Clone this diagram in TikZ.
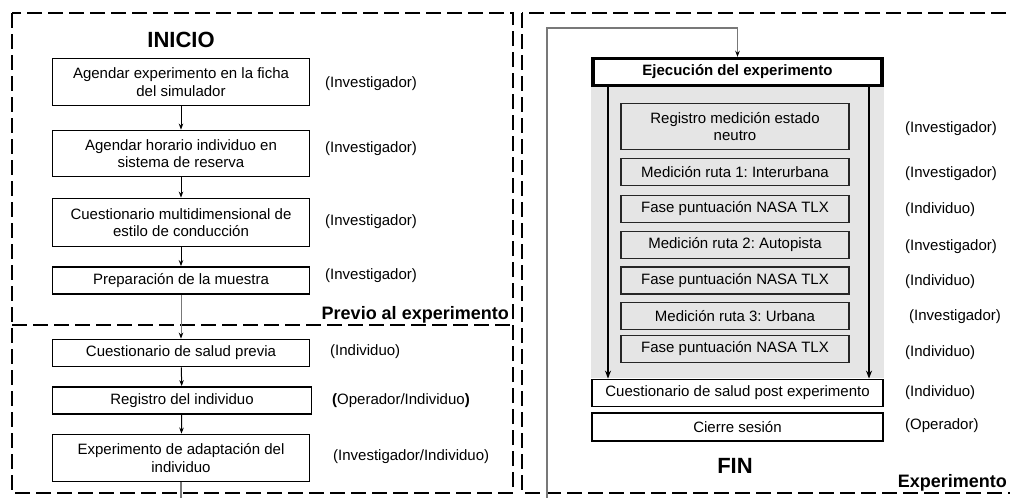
\documentclass[tikz,border=0pt]{standalone}
\usepackage{fontspec}
\setmainfont{Liberation Sans}
\usetikzlibrary{arrows.meta, positioning}
\frenchspacing

\newcommand{\stepfont}{\fontsize{15}{17.5}\selectfont}
\definecolor{panel}{RGB}{229,229,229}
\definecolor{loopgray}{RGB}{120,120,120}

\tikzset{
    stepbox/.style={draw, line width=1.8pt, fill=white, minimum width=257pt, minimum height=27pt, align=center, inner sep=0pt, font=\stepfont},
    measbox/.style={draw=black!85, line width=1.4pt, fill=panel, minimum width=228pt, minimum height=27pt, align=center, inner sep=0pt, font=\stepfont},
    runbox/.style={draw, line width=3.4pt, fill=white, minimum width=289pt, minimum height=27pt, inner sep=0pt, font=\bfseries\stepfont},
    endbox/.style={draw, line width=1.8pt, fill=white, minimum width=291pt, minimum height=27pt, inner sep=0pt, font=\stepfont},
    role/.style={anchor=west, inner sep=0pt, font=\stepfont},
    phase/.style={line width=2pt, dash pattern=on 15pt off 6pt},
    tag/.style={inner sep=0pt, font=\bfseries\fontsize{18}{20}\selectfont},
    title/.style={inner sep=0pt, font=\bfseries\fontsize{22}{24}\selectfont},
    flow/.style={->, line width=1pt},
    bigflow/.style={-{Stealth[length=8pt, width=6pt]}, line width=2pt}
}

\begin{document}
\begin{tikzpicture}[x=1pt, y=-1pt, >={Stealth[length=6pt, width=4.5pt]}]
        \clip (0,0) rectangle (1010,498);
        \fill[white] (0,0) rectangle (1010,498);

        % Phase frames
        \draw[phase] (12,13) rectangle (513,493);
        \draw[phase] (12,325) -- (513,325);
        \draw[phase] (522,13) rectangle (1040,493);
        \fill[panel] (591,87) rectangle (884,378);

        % Before the experiment
        \node[title, anchor=base] (inicio) at (181,47) {INICIO};
        \node[stepbox, minimum height=47pt] (agenda) at (181,82) {Agendar experimento en la ficha\\del simulador};
        \node[stepbox, minimum height=46pt] (horario) at (181,153.5) {Agendar horario individuo en\\sistema de reserva};
        \node[stepbox, minimum height=48pt] (cuest) at (181,222.5) {Cuestionario multidimensional de\\estilo de conducción};
        \node[stepbox] (prep) at (181,280.5) {Preparación de la muestra};
        \node[tag, anchor=base east] (previo) at (509,319) {Previo al experimento};

        \node[role] (agenda_r) at (325,84) {(Investigador)};
        \node[role] (horario_r) at (325,149) {(Investigador)};
        \node[role] (cuest_r) at (325,222) {(Investigador)};
        \node[role] (prep_r) at (325,276) {(Investigador)};

        % Subject preparation
        \node[stepbox] (previa) at (181,353) {Cuestionario de salud previa};
        \node[stepbox, minimum width=259pt] (registro) at (182,400.5) {Registro del individuo};
        \node[stepbox, minimum height=47pt] (adapt) at (181,458) {Experimento de adaptación del\\individuo};

        \node[role] (previa_r) at (330,352) {(Individuo)};
        \node[role] (registro_r) at (332,401) {\textbf{(}Operador/Individuo\textbf{)}};
        \node[role] (adapt_r) at (333,457) {(Investigador/Individuo)};

        \draw[flow] (agenda) -- (horario);
        \draw[flow] (horario) -- (cuest);
        \draw[flow] (cuest) -- (prep);
        \draw[flow, draw=loopgray, -{Stealth[length=6pt, width=4.5pt, black]}] (prep) -- (previa);
        \draw[flow] (previa) -- (registro);
        \draw[flow] (registro) -- (adapt);

        % Experiment
        \coordinate (loop) at (547,28);
        \node[runbox] (ejec) at (737.5,72) {Ejecución del experimento};
        \draw[flow, draw=loopgray, line width=1.2pt, -{Stealth[length=6pt, width=4.5pt, black]}] (adapt.south) -- ++(0,30) -| (loop) -| (ejec.north);

        \node[measbox, minimum height=46pt] (neutro) at (735,126.5) {Registro medición estado\\neutro};
        \node[measbox] (ruta1) at (735,172) {Medición ruta 1: Interurbana};
        \node[measbox] (tlx1) at (735,209) {Fase puntuación NASA TLX};
        \node[measbox] (ruta2) at (735,245) {Medición ruta 2: Autopista};
        \node[measbox] (tlx2) at (735,280.5) {Fase puntuación NASA TLX};
        \node[measbox] (ruta3) at (735,316) {Medición ruta 3: Urbana};
        \node[measbox] (tlx3) at (735,349) {Fase puntuación NASA TLX};
        \node[endbox] (post) at (737.5,393) {Cuestionario de salud post experimento};
        \node[endbox, minimum height=28pt] (cierre) at (737.5,427) {Cierre sesión};
        \node[title, anchor=base] (fin) at (735,473) {FIN};
        \node[tag, anchor=base east] (experimento) at (1007,487) {Experimento};

        \draw[bigflow] ([xshift=-129.5pt]ejec.south) -- ([xshift=-129.5pt]post.north);
        \draw[bigflow] ([xshift=131.5pt]ejec.south) -- ([xshift=131.5pt]post.north);

        \node[role] (neutro_r) at (905,129) {(Investigador)};
        \node[role] (ruta1_r) at (905,174) {(Investigador)};
        \node[role] (tlx1_r) at (905,210) {(Individuo)};
        \node[role] (ruta2_r) at (905,247) {(Investigador)};
        \node[role] (tlx2_r) at (905,282) {(Individuo)};
        \node[role] (ruta3_r) at (909,317) {(Investigador)};
        \node[role] (tlx3_r) at (905,353) {(Individuo)};
        \node[role] (post_r) at (905,393) {(Individuo)};
        \node[role] (cierre_r) at (905,426) {(Operador)};
\end{tikzpicture}
\end{document}
